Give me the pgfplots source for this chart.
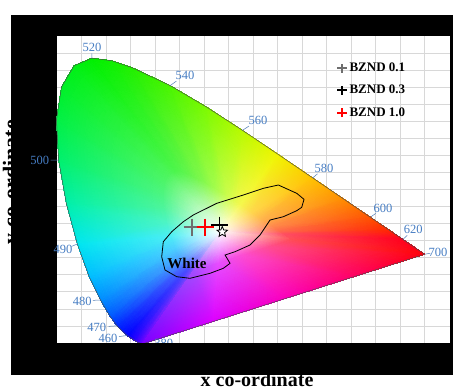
\documentclass[border=0pt]{standalone}
\usepackage{fontspec}
\setmainfont{Liberation Serif}
\usepackage{pgfplots}
\pgfplotsset{compat=1.18}
\usetikzlibrary{calc}
\definecolor{wl}{RGB}{70,125,195}
\definecolor{gridc}{RGB}{216,216,216}
\definecolor{bzgray}{RGB}{110,110,110}
\pgfdeclareplotmark{fstar}{%
  \pgfpathmoveto{\pgfpointpolar{90}{\pgfplotmarksize}}%
  \pgfpathlineto{\pgfpointpolar{126}{0.45\pgfplotmarksize}}%
  \pgfpathlineto{\pgfpointpolar{162}{\pgfplotmarksize}}%
  \pgfpathlineto{\pgfpointpolar{198}{0.45\pgfplotmarksize}}%
  \pgfpathlineto{\pgfpointpolar{234}{\pgfplotmarksize}}%
  \pgfpathlineto{\pgfpointpolar{270}{0.45\pgfplotmarksize}}%
  \pgfpathlineto{\pgfpointpolar{306}{\pgfplotmarksize}}%
  \pgfpathlineto{\pgfpointpolar{342}{0.45\pgfplotmarksize}}%
  \pgfpathlineto{\pgfpointpolar{18}{\pgfplotmarksize}}%
  \pgfpathlineto{\pgfpointpolar{54}{0.45\pgfplotmarksize}}%
  \pgfpathclose
  \pgfusepathqfillstroke}
\newcommand{\wlab}[5]{%
  \draw[wl!80!gray, line width=0.5pt] (axis cs:#1,#2) -- ($(axis cs:#1,#2)!0.42!(axis cs:#3,#4)$);
  \node[text=wl, font=\fontsize{12.5}{14}\selectfont, inner sep=0pt] at (axis cs:#3,#4) {#5};}
\begin{document}
\begin{tikzpicture}
\fill[black] (11pt,15pt) rectangle (453pt,375pt);
\node[rotate=90, anchor=base, font=\fontsize{22}{26}\selectfont\bfseries] at (18pt,208pt) {y co-ordinate};
\begin{axis}[
  at={(57pt,47pt)}, anchor=south west,
  width=393pt, height=307pt, scale only axis,
  xmin=0.005, xmax=0.785, ymin=0.008, ymax=0.898,
  axis background/.style={fill=white},
  axis line style={draw=none},
  tick style={draw=none},
  xtick={0.0536,0.1023,0.1509,0.1995,0.2482,0.2968,0.3454,0.3940,0.4427,0.4913,0.5399,0.5886,0.6372,0.6858,0.7345},
  ytick={0.0574,0.1069,0.1564,0.2058,0.2553,0.3047,0.3542,0.4036,0.4531,0.5025,0.5520,0.6014,0.6509,0.7003,0.7498,0.7992,0.8487},
  xticklabels={}, yticklabels={},
  grid=major, grid style={gridc, line width=0.7pt},
  clip=false,
  legend style={at={(0.708,0.922)}, anchor=north west, draw=none, fill=none,
    font=\fontsize{13}{15}\selectfont\bfseries, row sep=8pt, inner sep=1pt},
  legend cell align=left,
]
\addplot[surf, shader=interp, mesh/rows=32, mesh/cols=3, mesh/color input=explicit, forget plot]
table[meta=c] {
x y c
0.33 0.33 rgb255=255,255,255
0.2754 0.2163 rgb255=161,77,255
0.1741 0.0050 rgb255=120,0,255
0.33 0.33 rgb255=255,255,255
0.2720 0.2183 rgb255=126,77,255
0.1644 0.0109 rgb255=70,0,255
0.33 0.33 rgb255=255,255,255
0.2693 0.2207 rgb255=101,77,255
0.1566 0.0177 rgb255=35,0,255
0.33 0.33 rgb255=255,255,255
0.2649 0.2249 rgb255=77,77,255
0.1440 0.0297 rgb255=0,0,255
0.33 0.33 rgb255=255,255,255
0.2579 0.2347 rgb255=77,105,255
0.1241 0.0578 rgb255=0,40,255
0.33 0.33 rgb255=255,255,255
0.2529 0.2449 rgb255=77,140,255
0.1096 0.0868 rgb255=0,90,255
0.33 0.33 rgb255=255,255,255
0.2465 0.2610 rgb255=77,175,255
0.0913 0.1327 rgb255=0,140,255
0.33 0.33 rgb255=255,255,255
0.2385 0.2848 rgb255=77,210,255
0.0687 0.2007 rgb255=0,190,255
0.33 0.33 rgb255=255,255,255
0.2304 0.3178 rgb255=77,238,245
0.0454 0.2950 rgb255=0,230,240
0.33 0.33 rgb255=255,255,255
0.2227 0.3590 rgb255=77,245,196
0.0235 0.4127 rgb255=0,240,170
0.33 0.33 rgb255=255,255,255
0.2174 0.4029 rgb255=77,245,154
0.0082 0.5384 rgb255=0,240,110
0.33 0.33 rgb255=255,255,255
0.2159 0.4437 rgb255=77,245,126
0.0039 0.6548 rgb255=0,240,70
0.33 0.33 rgb255=255,255,255
0.2194 0.4771 rgb255=77,245,105
0.0139 0.7502 rgb255=0,240,40
0.33 0.33 rgb255=255,255,255
0.2281 0.4987 rgb255=77,245,91
0.0389 0.8120 rgb255=0,240,20
0.33 0.33 rgb255=255,255,255
0.2405 0.5063 rgb255=77,245,77
0.0743 0.8338 rgb255=0,240,0
0.33 0.33 rgb255=255,255,255
0.2545 0.5037 rgb255=87,245,77
0.1142 0.8262 rgb255=15,240,0
0.33 0.33 rgb255=255,255,255
0.2687 0.4966 rgb255=101,245,77
0.1547 0.8059 rgb255=35,240,0
0.33 0.33 rgb255=255,255,255
0.2949 0.4785 rgb255=129,248,77
0.2296 0.7543 rgb255=75,245,0
0.33 0.33 rgb255=255,255,255
0.3201 0.4568 rgb255=164,252,77
0.3016 0.6923 rgb255=125,250,0
0.33 0.33 rgb255=255,255,255
0.3451 0.4331 rgb255=206,252,77
0.3731 0.6245 rgb255=185,250,0
0.33 0.33 rgb255=255,255,255
0.3699 0.4087 rgb255=245,248,77
0.4441 0.5547 rgb255=240,245,0
0.33 0.33 rgb255=255,255,255
0.3939 0.3848 rgb255=255,213,77
0.5125 0.4866 rgb255=255,195,0
0.33 0.33 rgb255=255,255,255
0.4158 0.3630 rgb255=255,175,77
0.5752 0.4242 rgb255=255,140,0
0.33 0.33 rgb255=255,255,255
0.4340 0.3449 rgb255=255,136,77
0.6270 0.3725 rgb255=255,85,0
0.33 0.33 rgb255=255,255,255
0.4475 0.3314 rgb255=255,105,77
0.6658 0.3340 rgb255=255,40,0
0.33 0.33 rgb255=255,255,255
0.4565 0.3224 rgb255=255,77,98
0.6915 0.3083 rgb255=255,0,30
0.33 0.33 rgb255=255,255,255
0.4662 0.3128 rgb255=255,77,91
0.7190 0.2809 rgb255=255,0,20
0.33 0.33 rgb255=255,255,255
0.4717 0.3074 rgb255=255,77,84
0.7347 0.2653 rgb255=255,0,10
0.33 0.33 rgb255=255,255,255
0.4226 0.2846 rgb255=255,77,147
0.5946 0.2002 rgb255=255,0,100
0.33 0.33 rgb255=255,255,255
0.3735 0.2618 rgb255=252,77,210
0.4544 0.1352 rgb255=250,0,190
0.33 0.33 rgb255=255,255,255
0.3245 0.2390 rgb255=231,77,255
0.3143 0.0701 rgb255=220,0,255
0.33 0.33 rgb255=255,255,255
0.2754 0.2163 rgb255=161,77,255
0.1741 0.0050 rgb255=120,0,255
};
\addplot[gray!60!black, line width=0.5pt, forget plot] coordinates {
(0.1741,0.0050) (0.1644,0.0109) (0.1566,0.0177) (0.1440,0.0297) (0.1241,0.0578)
(0.1096,0.0868) (0.0913,0.1327) (0.0687,0.2007) (0.0454,0.2950) (0.0235,0.4127)
(0.0082,0.5384) (0.0039,0.6548) (0.0139,0.7502) (0.0389,0.8120) (0.0743,0.8338)
(0.1142,0.8262) (0.1547,0.8059) (0.2296,0.7543) (0.3016,0.6923) (0.3731,0.6245)
(0.4441,0.5547) (0.5125,0.4866) (0.5752,0.4242) (0.6270,0.3725) (0.6658,0.3340)
(0.6915,0.3083) (0.7190,0.2809) (0.7347,0.2653) (0.1741,0.0050)};
\addplot[black, line width=0.8pt, forget plot] coordinates {
(0.4443,0.4660) (0.4808,0.4419) (0.4953,0.4245) (0.4907,0.4013) (0.4808,0.3915)
(0.4542,0.3741) (0.4278,0.3645) (0.4212,0.3500) (0.4079,0.3210) (0.3881,0.2921)
(0.3583,0.2726) (0.3385,0.2631) (0.3484,0.2390) (0.3351,0.2245) (0.3087,0.2100)
(0.2690,0.1955) (0.2426,0.2002) (0.2194,0.2196) (0.2128,0.2581) (0.2160,0.3016)
(0.2327,0.3306) (0.2557,0.3596) (0.2755,0.3790) (0.3220,0.4129) (0.3748,0.4370)
(0.4145,0.4564) (0.4443,0.4660)};
\wlab{0.0743}{0.8338}{0.0745}{0.866}{520}
\wlab{0.2296}{0.7543}{0.259}{0.785}{540}
\wlab{0.3731}{0.6245}{0.404}{0.654}{560}
\wlab{0.5125}{0.4866}{0.535}{0.515}{580}
\wlab{0.6270}{0.3725}{0.652}{0.399}{600}
\wlab{0.6915}{0.3083}{0.712}{0.336}{620}
\wlab{0.7347}{0.2653}{0.761}{0.272}{700}
\wlab{0.0082}{0.5384}{-0.029}{0.538}{500}
\wlab{0.0454}{0.2950}{0.017}{0.278}{490}
\wlab{0.0913}{0.1327}{0.055}{0.130}{480}
\wlab{0.1241}{0.0578}{0.084}{0.054}{470}
\wlab{0.1440}{0.0297}{0.106}{0.0225}{460}
\wlab{0.1741}{0.0050}{0.217}{0.008}{380}
\node[font=\fontsize{15}{17}\selectfont\bfseries] at (axis cs:0.263,0.240) {White};
\addplot[only marks, mark=+, mark size=8.5pt, bzgray, line width=1.3pt,
  legend image code/.code={\draw[bzgray, line width=2pt] (0cm,0cm) -- (0.32cm,0cm) (0.16cm,-0.16cm) -- (0.16cm,0.16cm);}]
  coordinates {(0.273,0.344)};
\addlegendentry{BZND 0.1}
\addplot[only marks, mark=+, mark size=8.5pt, black, line width=1.3pt,
  legend image code/.code={\draw[black, line width=2pt] (0cm,0cm) -- (0.32cm,0cm) (0.16cm,-0.16cm) -- (0.16cm,0.16cm);}]
  coordinates {(0.327,0.350)};
\addlegendentry{BZND 0.3}
\addplot[only marks, mark=+, mark size=8.5pt, red, line width=1.3pt,
  legend image code/.code={\draw[red, line width=2pt] (0cm,0cm) -- (0.32cm,0cm) (0.16cm,-0.16cm) -- (0.16cm,0.16cm);}]
  coordinates {(0.299,0.344)};
\addlegendentry{BZND 1.0}
\addplot[only marks, mark=fstar, mark size=5.5pt, mark options={fill=white, draw=black, line width=0.8pt}, forget plot] coordinates {(0.333,0.330)};
\end{axis}
\fill[black] (11pt,15pt) rectangle (453pt,47pt);
\node[anchor=base, font=\fontsize{20}{24}\selectfont\bfseries] at (257pt,3pt) {x co-ordinate};
\pgfresetboundingbox
\useasboundingbox (0,0) rectangle (453pt,390pt);
\end{tikzpicture}
\end{document}
